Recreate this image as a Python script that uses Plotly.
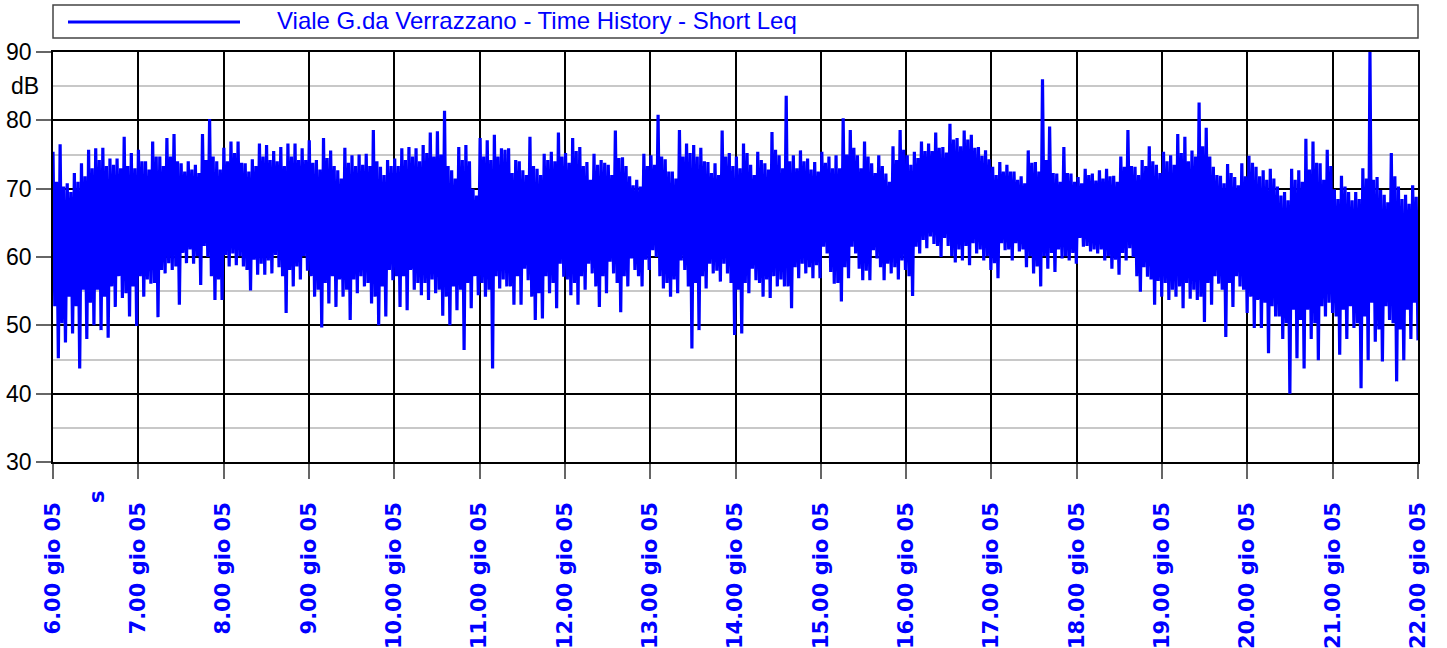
import plotly.graph_objects as go

# ---------------- data ----------------
HOURS = list(range(6, 23))
TICK_TEXT = [f"{h}.00 gio 05" for h in HOURS]
Y_TICKS = [30, 40, 50, 60, 70, 80, 90]
SERIES_NAME = "Viale G.da Verrazzano - Time History - Short Leq"
X_UNIT = "s"
Y_UNIT = "dB"
START_HOUR = 6
END_HOUR = 22

# Short Leq, per 5-minute interval, 06:00 -> 22:00 (dB)
# highest peak
LEQ_MAX = [
    75.4, 76.5, 70.8, 72.3, 73.7, 75.7, 75.9, 76.0, 74.4, 74.4, 77.6, 75.2,   # 6
    75.7, 74.0, 76.9, 74.7, 77.4, 78.0, 73.7, 74.0, 73.5, 78.0, 80.2, 74.0,   # 7
    76.0, 76.9, 76.9, 73.7, 74.3, 76.6, 76.4, 75.5, 76.1, 76.6, 76.6, 75.9,   # 8
    77.1, 74.2, 77.4, 75.6, 72.7, 76.0, 74.9, 75.0, 75.1, 78.6, 73.2, 74.2,   # 9
    74.4, 75.9, 76.1, 75.9, 76.4, 78.2, 78.4, 81.4, 72.7, 76.1, 76.4, 70.0,   # 10
    77.4, 77.1, 77.9, 75.9, 75.9, 74.2, 72.7, 77.6, 72.9, 75.1, 75.4, 78.2,   # 11
    75.2, 77.4, 76.1, 73.9, 75.1, 74.2, 73.5, 78.5, 74.6, 71.8, 71.3, 75.1,   # 12
    74.9, 80.8, 74.3, 72.5, 78.6, 76.6, 76.4, 76.0, 73.9, 73.7, 78.5, 75.2,   # 13
    74.7, 76.6, 73.5, 75.4, 73.7, 78.3, 74.9, 83.6, 74.9, 75.6, 74.4, 73.9,   # 14
    75.4, 74.7, 74.9, 80.3, 78.6, 74.9, 76.9, 73.7, 74.9, 72.2, 76.2, 78.6,   # 15
    74.9, 75.4, 76.9, 76.6, 78.2, 76.1, 79.5, 77.4, 78.5, 77.9, 76.1, 75.6,   # 16
    73.2, 73.9, 73.5, 72.5, 71.8, 75.6, 73.9, 86.0, 79.1, 72.2, 76.1, 72.2,   # 17
    71.7, 72.9, 72.2, 72.7, 72.9, 71.9, 74.7, 78.6, 73.2, 74.2, 76.2, 73.5,   # 18
    75.4, 74.9, 78.0, 77.6, 75.6, 82.6, 78.9, 73.2, 71.9, 73.6, 71.7, 73.7,   # 19
    74.8, 73.2, 72.7, 72.9, 70.3, 69.5, 72.9, 72.7, 77.3, 76.9, 73.7, 75.7,   # 20
    69.9, 71.9, 69.5, 69.5, 73.0, 90.0, 71.7, 69.1, 75.2, 70.3, 69.1, 70.5,   # 21
]
# secondary (typical) peak
LEQ_MAX2 = [
    71.0, 70.3, 69.5, 71.0, 71.8, 73.0, 74.2, 73.3, 73.5, 73.0, 73.3, 73.0,   # 6
    74.0, 72.8, 74.7, 73.3, 74.7, 74.0, 72.5, 72.8, 72.3, 74.2, 74.7, 72.8,   # 7
    74.0, 75.2, 73.8, 72.5, 73.3, 74.7, 74.2, 74.0, 73.3, 74.7, 74.2, 74.2,   # 8
    73.8, 72.8, 74.5, 73.3, 71.5, 73.8, 73.3, 73.5, 73.3, 74.0, 72.0, 73.3,   # 9
    73.3, 74.2, 74.7, 74.0, 75.2, 74.7, 75.0, 73.3, 71.5, 74.2, 74.0, 69.0,   # 10
    74.7, 74.2, 74.7, 75.7, 72.3, 74.0, 72.0, 73.3, 72.0, 74.2, 74.0, 74.7,   # 11
    73.8, 75.5, 73.3, 71.3, 73.5, 73.8, 72.0, 74.5, 73.3, 70.5, 70.3, 73.3,   # 12
    73.5, 74.7, 72.5, 71.5, 74.7, 75.2, 74.7, 74.0, 72.3, 72.0, 74.7, 73.3,   # 13
    73.0, 75.2, 72.0, 74.2, 72.8, 75.7, 73.0, 74.0, 73.0, 74.0, 72.8, 72.5,   # 14
    73.8, 73.0, 73.0, 75.0, 76.0, 73.0, 74.7, 72.3, 73.3, 71.0, 74.2, 75.7,   # 15
    73.5, 74.5, 75.5, 75.5, 76.0, 75.3, 77.2, 76.2, 77.2, 76.0, 74.8, 74.3,   # 16
    72.0, 72.5, 72.5, 71.3, 70.8, 73.8, 72.5, 74.2, 72.3, 71.0, 72.3, 71.0,   # 17
    70.8, 72.0, 71.2, 71.5, 71.8, 71.0, 73.2, 73.3, 72.0, 73.3, 74.0, 72.3,   # 18
    74.0, 73.5, 75.2, 74.0, 74.7, 76.2, 74.7, 72.0, 70.8, 72.3, 70.5, 71.8,   # 19
    73.8, 71.8, 71.3, 71.5, 69.0, 68.3, 71.3, 71.0, 72.8, 73.8, 71.3, 73.3,   # 20
    68.5, 70.3, 68.3, 68.5, 71.5, 71.3, 69.8, 68.0, 71.8, 68.5, 67.8, 68.8,   # 21
]
# secondary (typical) dip
LEQ_MIN2 = [
    52.8, 50.3, 54.2, 52.8, 55.2, 53.3, 55.2, 54.2, 55.7, 57.2, 54.7, 55.7,   # 6
    57.2, 56.7, 56.2, 58.1, 59.1, 58.6, 60.6, 61.1, 60.1, 61.6, 57.2, 56.7,   # 7
    60.3, 60.5, 60.1, 58.1, 59.6, 59.0, 59.5, 60.3, 57.2, 58.1, 58.6, 60.1,   # 8
    57.2, 55.2, 56.2, 57.2, 56.7, 55.2, 56.7, 57.2, 56.2, 54.2, 55.7, 58.1,   # 9
    57.2, 57.2, 58.1, 56.2, 56.2, 56.7, 55.2, 54.2, 55.7, 55.2, 56.2, 57.2,   # 10
    56.2, 55.2, 57.2, 56.7, 55.7, 57.2, 58.3, 54.2, 54.7, 57.2, 56.2, 59.0,   # 11
    56.7, 56.2, 57.2, 59.0, 55.7, 57.2, 59.3, 56.2, 57.2, 59.8, 57.2, 59.6,   # 12
    61.0, 57.2, 56.2, 56.7, 59.5, 55.7, 56.2, 57.2, 59.0, 58.0, 59.0, 56.2,   # 13
    55.2, 56.2, 58.3, 56.2, 56.7, 57.2, 56.7, 55.7, 58.5, 59.0, 58.5, 58.8,   # 14
    61.5, 57.8, 56.2, 58.5, 61.5, 58.3, 58.0, 61.0, 58.5, 59.0, 58.5, 59.5,   # 15
    57.2, 61.5, 62.5, 63.0, 61.6, 62.8, 60.1, 61.1, 61.6, 62.0, 61.1, 60.1,   # 16
    59.1, 62.0, 61.1, 62.0, 61.1, 60.1, 58.6, 60.1, 60.6, 61.1, 60.1, 60.6,   # 17
    62.8, 61.6, 61.1, 61.1, 60.1, 59.6, 60.6, 61.3, 57.2, 58.5, 56.7, 56.5,   # 18
    56.2, 55.2, 55.7, 56.2, 55.2, 54.2, 56.2, 57.2, 55.2, 56.2, 57.2, 55.2,   # 19
    54.2, 53.7, 53.3, 52.8, 51.3, 50.3, 52.3, 50.8, 52.3, 50.3, 52.8, 53.3,   # 20
    51.3, 52.3, 52.8, 50.3, 51.3, 53.3, 49.4, 52.8, 50.3, 49.4, 52.3, 53.3,   # 21
]
# deepest dip
LEQ_MIN = [
    45.2, 47.5, 48.8, 43.7, 48.0, 50.0, 49.3, 48.2, 52.7, 54.0, 51.3, 49.9,   # 6
    54.2, 56.1, 51.2, 57.6, 58.1, 53.0, 59.1, 59.0, 55.9, 60.0, 53.7, 53.7,   # 7
    58.6, 58.8, 58.6, 55.1, 57.4, 57.4, 57.6, 58.5, 51.8, 55.7, 56.7, 58.0,   # 8
    54.2, 49.7, 53.2, 52.7, 54.2, 50.8, 54.7, 55.7, 53.2, 50.0, 51.3, 56.6,   # 9
    52.7, 52.2, 55.2, 54.4, 53.7, 54.7, 51.4, 50.0, 52.2, 46.4, 52.5, 54.4,   # 10
    54.2, 43.7, 55.4, 55.7, 53.0, 53.0, 56.6, 50.8, 51.0, 54.7, 52.5, 57.1,   # 11
    54.4, 53.0, 55.2, 57.6, 52.7, 54.7, 57.6, 51.9, 55.7, 58.1, 55.7, 58.1,   # 12
    60.0, 55.4, 54.2, 54.7, 58.1, 46.6, 49.3, 55.4, 57.6, 56.4, 57.6, 48.6,   # 13
    48.8, 54.7, 56.6, 54.2, 54.0, 55.7, 55.7, 52.5, 56.9, 57.6, 56.9, 56.9,   # 14
    60.5, 56.1, 53.5, 56.9, 60.5, 56.6, 56.6, 59.8, 56.6, 57.6, 56.7, 58.1,   # 15
    54.3, 60.5, 61.3, 61.9, 60.0, 61.6, 59.2, 59.5, 58.8, 60.5, 59.5, 58.1,   # 16
    56.9, 61.0, 59.5, 60.8, 58.5, 57.6, 55.7, 58.3, 57.8, 59.8, 59.5, 59.0,   # 17
    61.5, 60.8, 60.5, 59.5, 58.3, 57.4, 59.5, 60.0, 54.9, 57.1, 53.0, 54.2,   # 18
    53.7, 54.2, 52.5, 53.9, 53.7, 50.5, 53.0, 56.1, 48.3, 52.7, 55.7, 51.8,   # 19
    49.6, 49.6, 45.9, 51.3, 48.0, 40.0, 45.2, 43.7, 48.0, 44.9, 51.3, 51.8,   # 20
    45.7, 48.0, 49.6, 40.8, 44.9, 47.6, 44.7, 50.8, 41.8, 44.9, 48.0, 47.8,   # 21
]

# ---------------- build the trace: max, dip, peak, min for every interval ----------------
levels = []
for hi, lo2, hi2, lo in zip(LEQ_MAX, LEQ_MIN2, LEQ_MAX2, LEQ_MIN):
    levels += [hi, lo2, hi2, lo]
n = len(levels)
span = END_HOUR - START_HOUR
times = [START_HOUR + k * span / (n - 1) for k in range(n)]

BLUE = "#0000FF"
fig = go.Figure()
fig.add_trace(go.Scatter(
    x=times, y=levels, mode="lines",
    line=dict(color=BLUE, width=3.2),
    name=SERIES_NAME, showlegend=False, hoverinfo="skip",
))

L, R, T, B = 53, 29, 52, 186
W, H = 1447, 648
pw, ph = W - L - R, H - T - B

fig.update_layout(
    width=W, height=H,
    margin=dict(l=L, r=R, t=T, b=B, pad=0, autoexpand=False),
    paper_bgcolor="white", plot_bgcolor="white",
    font=dict(family="Liberation Sans, Arial, sans-serif", size=23, color="black"),
)

fig.update_xaxes(
    range=[START_HOUR, END_HOUR], tickmode="array", tickvals=HOURS, ticktext=TICK_TEXT,
    tickangle=-90, tickfont=dict(family="DejaVu Sans", size=21, color=BLUE, weight="bold"),
    showgrid=True, gridcolor="black", gridwidth=1.5,
    ticks="outside", ticklen=15, tickcolor="#666", tickwidth=1.5,
    ticklabelstandoff=15, automargin=False,
    showline=True, linecolor="black", linewidth=1.5, mirror=True, zeroline=False,
)
fig.update_yaxes(
    range=[30, 90], tickmode="array", tickvals=Y_TICKS,
    tickfont=dict(family="Liberation Sans, Arial", size=23, color="black"),
    showgrid=True, gridcolor="black", gridwidth=1.5,
    minor=dict(dtick=5, tick0=30, showgrid=True, gridcolor="#c8c8c8", gridwidth=1.5, ticks=""),
    ticks="outside", ticklen=15, tickcolor="#666", tickwidth=1.5, automargin=False,
    showline=True, linecolor="black", linewidth=1.5, mirror=True, zeroline=False,
)

# unit labels
fig.add_annotation(text=Y_UNIT, xref="paper", yref="y", x=(25 - L) / pw, y=85,
                   showarrow=False, xanchor="center", yanchor="middle",
                   font=dict(family="Liberation Sans, Arial", size=23, color="black"))
fig.add_annotation(text=X_UNIT, xref="x", yref="paper", x=START_HOUR + (97 - L) / pw * span,
                   y=-(497 - (T + ph)) / ph, showarrow=False, textangle=-90,
                   xanchor="center", yanchor="middle",
                   font=dict(family="DejaVu Sans", size=21, color=BLUE, weight="bold"))

# legend box (drawn)
def py(pix):
    return (T + ph - pix) / ph

fig.add_shape(type="rect", xref="paper", yref="paper", x0=0, x1=1, y0=py(38), y1=py(5),
              line=dict(color="#444", width=1.5), fillcolor="white", layer="above")
fig.add_shape(type="line", xref="paper", yref="paper", x0=(68 - L) / pw, x1=(240 - L) / pw,
              y0=py(22), y1=py(22), line=dict(color=BLUE, width=3), layer="above")
fig.add_annotation(text=SERIES_NAME, xref="paper", yref="paper", x=(275 - L) / pw, y=py(21),
                   showarrow=False, xanchor="left", yanchor="middle",
                   font=dict(family="Liberation Sans, Arial", size=24, color=BLUE))

fig.write_html("out.html", config={"displayModeBar": False},
               post_script="document.body.style.margin='0px';")
